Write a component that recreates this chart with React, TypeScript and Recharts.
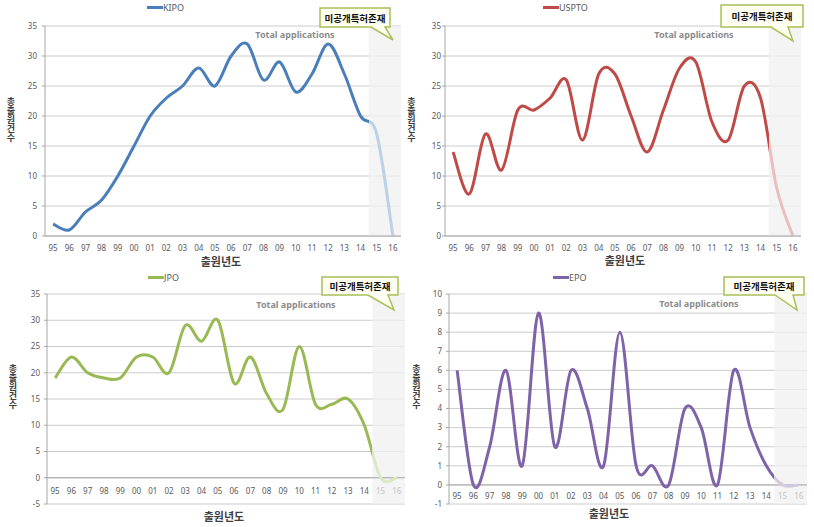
import React from 'react';
import { LineChart, Line, XAxis, YAxis, CartesianGrid, ReferenceArea, ReferenceLine, Legend, Label } from 'recharts';

const years = ['95', '96', '97', '98', '99', '00', '01', '02', '03', '04', '05', '06', '07', '08', '09', '10', '11', '12', '13', '14', '15', '16'];
const kipo = [2, 1, 4, 6, 10, 15, 20, 23, 25, 28, 25, 30, 32, 26, 29, 24, 27, 32, 27, 20, 17, 0];
const uspto = [14, 7, 17, 11, 21, 21, 23, 26, 16, 27, 27, 20, 14, 21, 28, 29, 19, 16, 25, 23, 8, 0];
const jpo = [19, 23, 20, 19, 19, 23, 23, 20, 29, 26, 30, 18, 23, 16, 13, 25, 14, 14, 15, 10, 0, 0];
const epo = [6, 0, 2, 6, 1, 9, 2, 6, 4, 1, 8, 1, 1, 0, 4, 3, 0, 6, 3, 1, 0, 0];
const hiddenYears = ['15', '16'];
const topTicks = [0, 5, 10, 15, 20, 25, 30, 35];
const jpoTicks = [-5, 0, 5, 10, 15, 20, 25, 30, 35];
const epoTicks = [-1, 0, 1, 2, 3, 4, 5, 6, 7, 8, 9, 10];

const yTitle = '총출원건수';
const xTitle = '출원년도';
const calloutText = '미공개특허존재';
const chartTitle = 'Total applications';

const FONT = '"Noto Sans", "Noto Sans CJK KR", sans-serif';
const KFONT = '"Noto Sans CJK KR", sans-serif';

const xIndex = years.map((_, i) => i);
const hiddenStart = years.indexOf(hiddenYears[0]) - 0.5;
const lastIndex = years.length - 1;

// Excel-like smoothed line (catmull-rom style bezier)
function excelSmooth(context: any) {
    let pts: number[][] = [];
    return {
        areaStart() {},
        areaEnd() {},
        lineStart() {
            pts = [];
        },
        point(x: number, y: number) {
            pts.push([+x, +y]);
        },
        lineEnd() {
            if (!pts.length) return;
            context.moveTo(pts[0][0], pts[0][1]);
            for (let i = 0; i < pts.length - 1; i++) {
                const p0 = pts[i - 1] || pts[i];
                const p1 = pts[i];
                const p2 = pts[i + 1];
                const p3 = pts[i + 2] || p2;
                context.bezierCurveTo(
                    p1[0] + (p2[0] - p0[0]) / 6,
                    p1[1] + (p2[1] - p0[1]) / 6,
                    p2[0] - (p3[0] - p1[0]) / 6,
                    p2[1] - (p3[1] - p1[1]) / 6,
                    p2[0],
                    p2[1]
                );
            }
        },
    };
}

const panels = [
    {
        id: 'kipo', name: 'KIPO', values: kipo, color: '#4A7EBB', fade: '#BCD0E6',
        left: 0, top: 0, width: 405, height: 270,
        margin: { top: 26, right: 4, left: 0, bottom: 0 }, yWidth: 45, xHeight: 34,
        domain: [0, 35], ticks: topTicks, yGap: 5, xShift: 11, zeroAxis: false,
        legend: { x: 147, y: 1 }, yT: { x: 6, y: 97 }, xT: { x: 221, y: 261 },
        total: { x: 295, y: 34 },
        callout: { x1: 320, x2: 390, y1: 8, y2: 27, b1: 371, b2: 385, tx: 393, ty: 40 },
    },
    {
        id: 'uspto', name: 'USPTO', values: uspto, color: '#BE4B48', fade: '#E8BFBE',
        left: 405, top: 0, width: 409, height: 270,
        margin: { top: 26, right: 13, left: 0, bottom: 0 }, yWidth: 40, xHeight: 34,
        domain: [0, 35], ticks: topTicks, yGap: 1, xShift: 11, zeroAxis: false,
        legend: { x: 138, y: 1 }, yT: { x: 1.5, y: 97 }, xT: { x: 220, y: 260 },
        total: { x: 289, y: 34 },
        callout: { x1: 316, x2: 398, y1: 5, y2: 27, b1: 366, b2: 383, tx: 388, ty: 41 },
    },
    {
        id: 'jpo', name: 'JPO', values: jpo, color: '#98B954', fade: '#DCE7C6',
        left: 0, top: 270, width: 410, height: 257,
        margin: { top: 24, right: 5, left: 0, bottom: 0 }, yWidth: 47, xHeight: 23,
        domain: [-5, 35], ticks: jpoTicks, yGap: 4, xShift: -14, zeroAxis: true,
        legend: { x: 148, y: 1 }, yT: { x: 8, y: 94 }, xT: { x: 224, y: 246 },
        total: { x: 296, y: 34 },
        callout: { x1: 322, x2: 398, y1: 7, y2: 25, b1: 368, b2: 388, tx: 394, ty: 40 },
    },
    {
        id: 'epo', name: 'EPO', values: epo, color: '#7F63A8', fade: '#D3CAE0',
        left: 405, top: 270, width: 409, height: 257,
        margin: { top: 24, right: 7, left: 0, bottom: 0 }, yWidth: 44, xHeight: 23,
        domain: [-1, 10], ticks: epoTicks, yGap: 4, xShift: -9, zeroAxis: true,
        legend: { x: 148, y: 1 }, yT: { x: 6.5, y: 94 }, xT: { x: 204, y: 243 },
        total: { x: 294, y: 33 },
        callout: { x1: 319, x2: 399, y1: 7, y2: 25, b1: 370, b2: 388, tx: 392, ty: 40 },
    },
];

const Panel = ({ cfg }: { cfg: any }) => {
    const data = years.map((year, i) => ({ idx: i, year, value: cfg.values[i] }));
    const cut = hiddenStart / lastIndex;
    const c = cfg.callout;

    const xTick = (props: any) => {
        const { x, y, payload } = props;
        const label = years[payload.value];
        const faded = cfg.zeroAxis && hiddenYears.includes(label);
        return (
            <text x={x} y={y + cfg.xShift} textAnchor="middle" dominantBaseline="central"
                fontSize={8} fontFamily={FONT} fill={faded ? '#c4c4c4' : '#595959'}>
                {label}
            </text>
        );
    };

    return (
        <div style={{ position: 'absolute', left: cfg.left, top: cfg.top, width: cfg.width, height: cfg.height }}>
            <LineChart width={cfg.width} height={cfg.height} data={data} margin={cfg.margin}>
                <defs>
                    <linearGradient id={`grad-${cfg.id}`} x1="0" y1="0" x2="1" y2="0">
                        <stop offset={cut} stopColor={cfg.color} />
                        <stop offset={cut} stopColor={cfg.fade} />
                    </linearGradient>
                </defs>
                <CartesianGrid vertical={false} stroke="#cccccc" />
                <ReferenceArea x1={hiddenStart} x2={lastIndex + 0.5} fill="#f0f0f0" fillOpacity={0.75} stroke="none" />
                <XAxis
                    type="number"
                    dataKey="idx"
                    domain={[-0.5, lastIndex + 0.5]}
                    ticks={xIndex}
                    interval={0}
                    height={cfg.xHeight}
                    tickLine={false}
                    tickSize={0}
                    tickMargin={0}
                    axisLine={cfg.zeroAxis ? false : { stroke: '#a6a6a6' }}
                    tick={xTick}
                >
                    <Label content={() => (
                        <text x={cfg.xT.x} y={cfg.xT.y} textAnchor="middle" dominantBaseline="central"
                            fontSize={11} fontWeight="bold" fontFamily={KFONT} fill="#404040">
                            {xTitle}
                        </text>
                    )} />
                </XAxis>
                <YAxis
                    width={cfg.yWidth}
                    domain={cfg.domain}
                    ticks={cfg.ticks}
                    interval={0}
                    tickSize={3}
                    tickMargin={cfg.yGap}
                    axisLine={{ stroke: '#a6a6a6' }}
                    tickLine={{ stroke: '#a6a6a6' }}
                    tick={{ fontSize: 8, fill: '#595959', fontFamily: FONT }}
                />
                {cfg.zeroAxis && <ReferenceLine y={0} stroke="#a6a6a6" />}
                <Legend
                    verticalAlign="middle"
                    align="center"
                    layout="horizontal"
                    wrapperStyle={{ top: cfg.legend.y, left: cfg.legend.x, width: 'auto' }}
                    content={() => (
                        <div style={{ display: 'flex', alignItems: 'center', fontFamily: FONT, fontSize: 9, color: '#595959' }}>
                            <span style={{ display: 'inline-block', width: 16, height: 3, background: cfg.color }} />
                            <span>{cfg.name}</span>
                        </div>
                    )}
                />
                <Line
                    type={excelSmooth as any}
                    dataKey="value"
                    name={cfg.name}
                    stroke={`url(#grad-${cfg.id})`}
                    strokeWidth={3}
                    dot={false}
                    activeDot={false}
                    isAnimationActive={false}
                />
            </LineChart>
            {/* y axis title, one character per line */}
            <div style={{
                position: 'absolute', left: cfg.yT.x, top: cfg.yT.y, width: 10,
                wordBreak: 'break-all', textAlign: 'center',
                fontFamily: KFONT, fontSize: 9, fontWeight: 'bold', lineHeight: '9px', color: '#404040',
            }}>
                {yTitle}
            </div>
            <svg width={cfg.width} height={cfg.height} style={{ position: 'absolute', left: 0, top: 0, pointerEvents: 'none' }}>
                <text x={cfg.total.x} y={cfg.total.y} textAnchor="middle" dominantBaseline="central"
                    fontSize={9} fontWeight="bold" fontFamily={FONT} fill="#8c8c8c">
                    {chartTitle}
                </text>
                <path
                    d={`M${c.x1},${c.y1} H${c.x2} V${c.y2} H${c.b2} L${c.tx},${c.ty} L${c.b1},${c.y2} H${c.x1} Z`}
                    fill="#fffff2"
                    stroke="#a8c05a"
                    strokeWidth={1.5}
                />
                <text x={(c.x1 + c.x2) / 2} y={(c.y1 + c.y2) / 2} textAnchor="middle" dominantBaseline="central"
                    fontSize={9.5} fontWeight="bold" fontFamily={KFONT} fill="#111">
                    {calloutText}
                </text>
            </svg>
        </div>
    );
};

const App = () => {
    return (
        <div style={{ position: 'absolute', left: 0, top: 0, width: 814, height: 527, background: '#fff' }}>
            {panels.map((p) => (
                <Panel key={p.id} cfg={p} />
            ))}
        </div>
    );
};

export default App;
